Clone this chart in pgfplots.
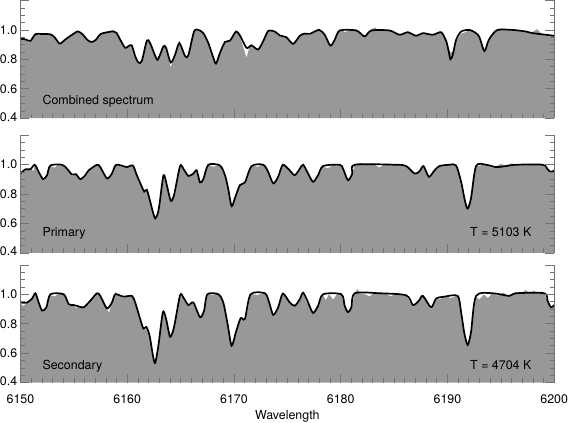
\documentclass[border=0pt]{standalone}
\usepackage{pgfplots}
\pgfplotsset{compat=1.18}
\usepackage{pgfplotstable}
\usepackage{fontspec}
\setmainfont{TeX Gyre Heros}
\definecolor{fillgray}{RGB}{152,152,152}
\definecolor{tickgray}{RGB}{115,115,115}

\pgfplotstableread{
x y
6150.00 0.940
6150.50 0.935
6150.93 0.925
6151.40 0.971
6152.00 0.972
6152.80 0.970
6153.20 0.950
6153.68 0.907
6154.20 0.935
6155.00 0.975
6155.36 0.990
6155.80 0.972
6156.30 0.930
6156.70 0.918
6157.10 0.935
6157.48 0.971
6158.20 0.985
6158.72 0.990
6159.00 0.980
6159.35 0.933
6159.81 0.878
6160.12 0.890
6160.43 0.895
6160.75 0.820
6161.06 0.778
6161.37 0.789
6161.84 0.927
6162.15 0.910
6162.77 0.800
6163.02 0.822
6163.40 0.889
6163.64 0.878
6164.08 0.778
6164.49 0.833
6164.89 0.911
6165.42 0.822
6165.73 0.829
6166.26 0.989
6166.67 1.000
6167.13 0.978
6167.60 0.911
6168.07 0.811
6168.32 0.771
6168.69 0.844
6169.16 0.918
6169.63 0.927
6170.19 0.989
6170.56 0.962
6171.18 0.878
6171.65 0.895
6172.27 0.867
6172.80 0.933
6173.21 0.993
6173.83 0.989
6174.30 0.962
6174.92 0.950
6175.54 0.905
6176.17 0.960
6176.64 0.975
6177.10 0.973
6177.97 1.000
6178.50 0.967
6179.03 0.893
6179.44 0.933
6179.91 0.996
6181.46 0.996
6182.24 0.956
6182.87 0.996
6184.58 0.996
6185.51 0.967
6186.29 0.984
6187.07 0.960
6187.69 0.978
6188.63 0.967
6189.41 0.984
6189.88 0.925
6190.10 0.860
6190.28 0.800
6190.50 0.830
6190.80 0.930
6191.28 0.989
6192.06 1.000
6192.68 0.978
6193.00 0.950
6193.46 0.856
6193.80 0.920
6194.08 0.956
6194.70 1.000
6196.11 1.000
6197.36 0.989
6197.97 0.978
6199.22 0.967
6200.00 0.960
}\modA

\pgfplotstableread{
x y
6150.00 0.945
6150.30 0.955
6150.50 0.930
6150.93 0.915
6151.20 0.950
6151.40 0.975
6151.70 0.965
6152.00 0.978
6152.40 0.968
6152.80 0.975
6153.20 0.945
6153.68 0.905
6154.20 0.940
6154.60 0.965
6155.00 0.980
6155.36 0.995
6155.80 0.968
6156.30 0.925
6156.70 0.915
6157.10 0.940
6157.48 0.975
6157.80 0.985
6158.20 0.990
6158.72 0.998
6159.00 0.980
6159.35 0.930
6159.81 0.870
6160.12 0.895
6160.43 0.900
6160.75 0.815
6161.06 0.775
6161.37 0.795
6161.84 0.935
6162.15 0.905
6162.77 0.795
6163.02 0.828
6163.40 0.895
6163.64 0.870
6164.08 0.745
6164.49 0.835
6164.89 0.925
6165.42 0.815
6165.73 0.830
6166.26 0.995
6166.67 1.005
6167.13 0.980
6167.60 0.905
6168.07 0.810
6168.32 0.770
6168.69 0.850
6169.16 0.915
6169.63 0.930
6170.19 0.995
6170.56 0.960
6171.18 0.810
6171.40 0.870
6171.65 0.900
6172.27 0.860
6172.80 0.940
6173.21 1.000
6173.83 0.985
6174.30 0.955
6174.92 0.945
6175.54 0.900
6176.17 0.965
6176.64 0.980
6177.10 0.965
6177.50 0.990
6177.97 1.010
6178.50 0.960
6179.03 0.885
6179.44 0.935
6179.91 1.005
6180.40 0.985
6180.90 1.000
6181.46 1.005
6181.80 0.975
6182.24 0.950
6182.87 1.005
6183.20 1.015
6183.60 0.998
6184.00 1.005
6184.58 0.995
6185.51 0.962
6186.00 0.985
6186.29 0.990
6187.07 0.955
6187.40 0.975
6187.69 0.970
6188.20 0.975
6188.63 0.962
6189.41 0.990
6189.88 0.930
6190.10 0.880
6190.28 0.845
6190.50 0.855
6190.80 0.920
6191.28 0.975
6191.70 0.985
6192.06 1.000
6192.68 0.975
6193.00 0.940
6193.46 0.845
6193.80 0.915
6194.08 0.955
6194.70 1.005
6195.10 1.010
6195.50 1.000
6196.11 1.000
6197.00 0.995
6197.36 0.985
6197.97 0.985
6198.40 1.005
6198.80 0.975
6199.22 0.962
6199.60 0.955
6200.00 0.962
}\obsA

\pgfplotstableread{
x y
6150.00 0.939
6150.47 0.968
6150.93 0.968
6151.34 0.999
6151.71 0.950
6152.12 0.901
6152.49 0.928
6152.80 0.994
6153.90 0.999
6154.36 0.972
6154.83 0.932
6155.20 0.935
6155.61 0.901
6156.07 0.928
6156.39 0.961
6157.17 0.999
6157.48 0.983
6158.10 0.906
6158.57 0.939
6158.97 0.999
6159.97 0.983
6160.53 0.994
6160.90 0.928
6161.37 0.850
6161.59 0.817
6161.84 0.828
6162.15 0.750
6162.40 0.680
6162.62 0.634
6162.85 0.665
6163.02 0.728
6163.40 0.928
6163.71 0.861
6164.08 0.754
6164.39 0.794
6164.95 0.990
6165.26 0.972
6165.73 0.923
6166.20 0.939
6166.51 0.961
6166.82 0.879
6167.13 0.901
6167.60 0.999
6168.69 0.994
6169.16 0.928
6169.45 0.840
6169.78 0.717
6170.09 0.772
6170.56 0.861
6171.03 0.879
6171.65 0.990
6172.74 0.999
6173.21 0.950
6173.68 0.872
6174.14 0.917
6174.58 0.999
6175.23 0.960
6175.70 0.928
6176.17 0.972
6176.48 0.999
6176.95 0.939
6177.41 0.883
6177.88 0.928
6178.35 0.990
6179.91 0.999
6180.22 0.972
6180.68 0.894
6181.09 0.939
6181.31 0.999
6185.21 0.999
6186.14 0.990
6186.92 0.939
6187.38 0.954
6187.76 0.990
6188.26 0.917
6188.79 0.961
6189.25 0.990
6190.19 0.999
6190.81 0.994
6191.28 0.883
6191.65 0.750
6191.90 0.701
6192.21 0.772
6192.68 0.990
6193.61 0.999
6194.55 0.983
6195.48 0.990
6196.42 0.999
6198.91 0.999
6199.38 0.968
6199.69 0.950
6200.00 0.961
}\modB

\pgfplotstableread{
x y
6150.00 0.945
6150.47 0.960
6150.93 0.975
6151.20 0.955
6151.34 0.995
6151.71 0.955
6152.12 0.905
6152.49 0.925
6152.80 0.990
6153.20 0.980
6153.50 0.995
6153.90 1.002
6154.36 0.968
6154.83 0.920
6155.20 0.940
6155.61 0.905
6156.07 0.925
6156.39 0.965
6157.17 1.002
6157.48 0.980
6158.10 0.910
6158.57 0.935
6158.97 1.000
6159.50 0.985
6159.97 0.978
6160.53 0.998
6160.90 0.925
6161.37 0.845
6161.59 0.820
6161.84 0.830
6162.15 0.755
6162.40 0.685
6162.62 0.640
6162.85 0.668
6163.02 0.735
6163.40 0.925
6163.71 0.855
6164.08 0.760
6164.39 0.800
6164.95 0.995
6165.26 0.968
6165.73 0.920
6166.20 0.945
6166.51 0.958
6166.82 0.875
6167.13 0.905
6167.60 1.002
6168.00 0.985
6168.69 0.998
6169.16 0.925
6169.45 0.845
6169.78 0.722
6170.09 0.775
6170.56 0.865
6171.03 0.875
6171.65 0.995
6172.20 0.985
6172.74 1.004
6173.21 0.955
6173.68 0.870
6174.14 0.920
6174.58 1.003
6175.23 0.955
6175.70 0.925
6176.17 0.975
6176.48 1.002
6176.95 0.935
6177.41 0.885
6177.88 0.930
6178.35 0.985
6178.80 0.975
6179.30 0.998
6179.91 1.002
6180.22 0.968
6180.68 0.898
6181.09 0.935
6181.31 1.005
6181.90 1.010
6182.40 0.998
6183.00 1.008
6183.60 0.980
6184.20 1.006
6184.80 1.000
6185.21 1.004
6185.70 0.995
6186.14 0.985
6186.92 0.935
6187.38 0.958
6187.76 0.985
6188.26 0.912
6188.79 0.958
6189.25 0.985
6189.70 0.998
6190.19 1.002
6190.81 0.990
6191.28 0.880
6191.65 0.755
6191.90 0.705
6192.21 0.778
6192.68 0.985
6193.10 0.995
6193.61 1.000
6194.10 0.980
6194.55 0.985
6195.00 1.005
6195.48 0.992
6196.00 1.008
6196.42 1.000
6197.00 1.004
6197.60 0.998
6198.30 1.006
6198.91 0.996
6199.38 0.965
6199.69 0.945
6200.00 0.965
}\obsB

\pgfplotstableread{
x y
6150.00 0.944
6150.62 0.944
6151.09 0.971
6151.40 1.007
6151.71 0.944
6152.03 0.889
6152.43 0.911
6152.80 1.000
6154.05 1.000
6154.52 0.933
6154.98 0.927
6155.45 0.918
6155.92 0.911
6156.54 0.956
6157.17 1.007
6157.48 0.989
6158.10 0.904
6158.57 0.944
6158.88 1.000
6159.66 0.984
6160.44 0.989
6160.75 0.944
6161.21 0.833
6161.52 0.767
6161.78 0.778
6162.09 0.722
6162.40 0.589
6162.62 0.533
6162.93 0.656
6163.34 0.878
6163.64 0.833
6164.02 0.711
6164.39 0.778
6164.95 0.993
6165.26 0.978
6165.73 0.927
6166.20 0.944
6166.82 0.844
6167.20 0.889
6167.51 1.000
6168.54 1.000
6169.00 0.944
6169.40 0.800
6169.78 0.651
6170.19 0.744
6170.63 0.838
6171.03 0.833
6171.56 1.000
6172.90 1.007
6173.30 0.944
6173.68 0.860
6174.14 0.911
6174.58 1.005
6175.23 0.944
6175.70 0.922
6176.17 0.967
6176.48 1.011
6176.95 0.944
6177.41 0.873
6177.88 0.922
6178.35 1.000
6180.06 1.000
6180.37 0.922
6180.68 0.878
6181.00 0.911
6181.31 1.007
6183.64 1.007
6186.14 0.993
6186.76 0.927
6187.32 0.956
6187.69 0.989
6188.47 0.911
6188.94 0.971
6189.72 0.984
6190.96 0.989
6191.28 0.878
6191.59 0.733
6191.90 0.656
6192.21 0.744
6192.68 0.989
6194.24 1.007
6195.79 0.989
6196.42 1.007
6199.07 1.007
6199.38 0.956
6199.69 0.911
6200.00 0.927
}\modC

\pgfplotstableread{
x y
6150.00 0.935
6150.30 0.920
6150.62 0.948
6151.09 0.975
6151.40 1.000
6151.71 0.940
6152.03 0.892
6152.43 0.915
6152.80 0.995
6153.20 0.985
6153.60 1.005
6154.05 0.995
6154.30 0.965
6154.52 0.925
6154.98 0.930
6155.20 0.905
6155.45 0.920
6155.92 0.915
6156.54 0.955
6157.17 1.010
6157.48 0.985
6157.80 0.960
6158.10 0.900
6158.30 0.875
6158.57 0.945
6158.88 1.015
6159.20 0.990
6159.66 0.975
6160.00 0.995
6160.44 0.985
6160.75 0.940
6161.21 0.830
6161.52 0.770
6161.78 0.760
6162.09 0.725
6162.40 0.592
6162.62 0.540
6162.93 0.660
6163.34 0.875
6163.64 0.835
6164.02 0.715
6164.39 0.775
6164.95 0.990
6165.26 0.975
6165.73 0.920
6166.20 0.948
6166.82 0.848
6167.20 0.885
6167.51 1.005
6168.00 0.995
6168.54 1.008
6169.00 0.940
6169.40 0.805
6169.78 0.660
6170.19 0.740
6170.63 0.845
6171.03 0.815
6171.30 0.900
6171.56 1.003
6172.20 0.995
6172.90 1.010
6173.30 0.940
6173.68 0.855
6174.14 0.915
6174.58 1.008
6175.23 0.950
6175.70 0.915
6176.17 0.975
6176.48 1.010
6176.70 0.960
6176.95 0.930
6177.41 0.875
6177.88 0.925
6178.35 0.995
6178.60 0.960
6178.90 1.000
6179.30 0.965
6179.70 1.005
6180.06 0.995
6180.37 0.915
6180.68 0.885
6181.00 0.905
6181.31 1.005
6181.55 1.035
6181.80 1.005
6182.30 1.000
6182.70 0.985
6183.10 1.010
6183.64 1.000
6184.20 1.008
6184.70 0.985
6185.20 1.010
6185.70 0.998
6186.14 0.988
6186.76 0.915
6187.32 0.960
6187.69 0.995
6188.00 0.975
6188.47 0.895
6188.94 0.975
6189.30 0.965
6189.72 0.990
6190.30 0.975
6190.96 0.992
6191.28 0.880
6191.59 0.740
6191.90 0.660
6192.21 0.750
6192.68 0.985
6193.00 0.965
6193.40 0.998
6193.80 0.975
6194.24 1.010
6194.70 0.990
6195.20 1.012
6195.79 0.985
6196.42 1.015
6196.90 1.000
6197.30 1.030
6197.70 1.005
6198.10 1.025
6198.50 1.000
6198.80 1.020
6199.07 1.005
6199.38 0.950
6199.69 0.900
6200.00 0.930
}\obsC

\pgfplotsset{
  spec/.style={
    scale only axis, width=535bp, height=118bp,
    xmin=6150, xmax=6200, ymin=0.4, ymax=1.2,
    axis on top,
    axis x line*=bottom, axis y line*=box,
    x axis line style={draw=none},
    y axis line style={draw=tickgray, line width=0.6bp},
    tick align=inside,
    xtick={6150,6160,6170,6180,6190,6200}, minor x tick num=9,
    ytick={0.4,0.6,0.8,1.0,1.2},
    yticklabels={\raisebox{3bp}{0.4},0.6,0.8,1.0,{}},
    minor y tick num=3,
    major tick length=9bp, minor tick length=4.5bp,
    every tick/.style={tickgray, line width=0.6bp},
    tick label style={font=\fontsize{12.5}{14}\selectfont},
    yticklabel style={inner sep=0pt, xshift=-3bp},
    xticklabel style={inner sep=0pt, anchor=base, yshift=-20.5bp,
      /pgf/number format/1000 sep={}},
    /pgf/number format/assume math mode=true,
    clip=true,
  },
  fillobs/.style={draw=none, fill=fillgray},
  model/.style={black, line width=1.7bp, smooth, tension=0.45},
}
\tikzset{lab/.style={font=\fontsize{12.5}{14}\selectfont, inner sep=0pt}}

\begin{document}
\begin{tikzpicture}
\begin{axis}[spec, at={(0,265bp)}, anchor=south west, xticklabels={}]
  \addplot[fillobs] table {\obsA} \closedcycle;
  \addplot[model] table {\modA};
  \node[lab, anchor=base west] at (rel axis cs:0.041,0.115) {Combined spectrum};
\end{axis}
\begin{axis}[spec, at={(0,130bp)}, anchor=south west, xticklabels={}]
  \addplot[fillobs] table {\obsB} \closedcycle;
  \addplot[model] table {\modB};
  \node[lab, anchor=base west] at (rel axis cs:0.041,0.138) {Primary};
  \node[lab, anchor=base east] at (rel axis cs:0.9576,0.138) {T = 5103 K};
\end{axis}
\begin{axis}[spec, at={(0,0)}, anchor=south west,
  xlabel={Wavelength},
  xlabel style={font=\fontsize{12.5}{14}\selectfont, inner sep=0pt,
    at={(rel axis cs:0.5,0)}, anchor=base, yshift=-37bp}]
  \addplot[fillobs] table {\obsC} \closedcycle;
  \addplot[model] table {\modC};
  \node[lab, anchor=base west] at (rel axis cs:0.041,0.115) {Secondary};
  \node[lab, anchor=base east] at (rel axis cs:0.9576,0.115) {T = 4704 K};
\end{axis}
\end{tikzpicture}
\end{document}
